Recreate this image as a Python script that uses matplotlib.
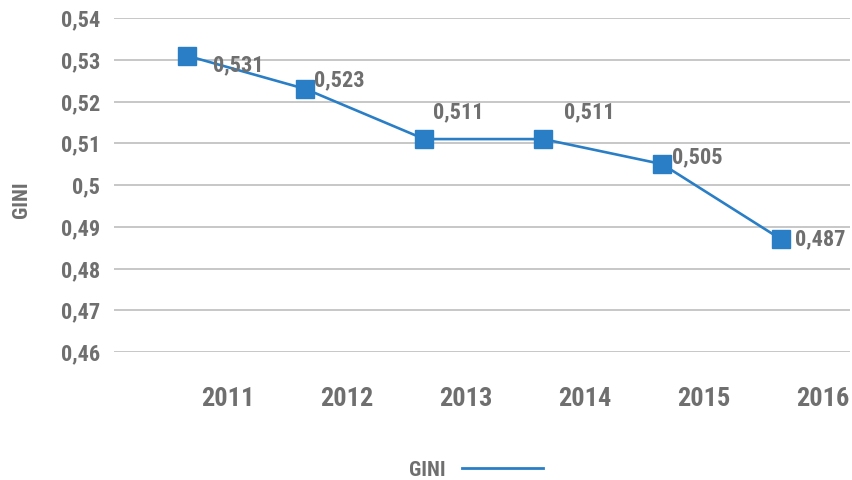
import numpy as np
import matplotlib
matplotlib.use("Agg")
import matplotlib.pyplot as plt
from matplotlib.lines import Line2D

# Gini coefficient by year
years = ["2011", "2012", "2013", "2014", "2015", "2016"]
gini = [0.531, 0.523, 0.511, 0.511, 0.505, 0.487]
y_ticks = [0.46, 0.47, 0.48, 0.49, 0.50, 0.51, 0.52, 0.53, 0.54]
series_name = "GINI"

plt.rcParams["font.family"] = ["Roboto Condensed", "Liberation Sans", "DejaVu Sans"]
plt.rcParams["font.weight"] = "bold"

TEXT = "#6f6f6f"
BLUE = "#2a7ec6"
GRID = "#b8b8b8"

fig = plt.figure(figsize=(8.52, 4.8), dpi=100)
ax = fig.add_axes([114 / 852, 1 - 352 / 480, (850 - 114) / 852, (352 - 18) / 480])

n = len(years)
tick_x = np.arange(n)
point_x = tick_x - 0.35  # markers sit left of their category labels

ax.plot(point_x, gini, color=BLUE, lw=1.9, marker="s", ms=12.5,
        markerfacecolor=BLUE, markeredgecolor=BLUE, zorder=3)

def fmt(v):
    s = f"{v:.3f}".rstrip("0").rstrip(".")
    return s.replace(".", ",")

# data label offsets in points (dx, dy)
offsets = [(19, -7), (6, 6), (6, 19), (15, 19), (7, 5), (10, 0)]
for x, v, (dx, dy) in zip(point_x, gini, offsets):
    ax.annotate(fmt(v), (x, v), xytext=(dx, dy), textcoords="offset points",
                ha="left", va="center", fontsize=16, color=TEXT,
                fontweight="bold")

ax.set_ylim(0.46, 0.54)
ax.set_xlim(-0.96, 5.23)
ax.set_yticks(y_ticks)
ax.set_yticklabels([fmt(t) for t in y_ticks])
ax.set_xticks(tick_x)
ax.set_xticklabels(years)
ax.grid(axis="y", color=GRID, lw=1.1)
ax.set_axisbelow(True)
for s in ax.spines.values():
    s.set_visible(False)
ax.tick_params(axis="both", length=0, colors=TEXT)
ax.tick_params(axis="y", pad=10, labelsize=16)
ax.tick_params(axis="x", pad=25, labelsize=19)
for lab in ax.get_xticklabels() + ax.get_yticklabels():
    lab.set_fontweight("bold")

fig.text(22 / 852, 1 - 200 / 480, series_name, rotation=90, ha="center",
         va="center", fontsize=15, color=TEXT, fontweight="bold")

handle = Line2D([], [], color=BLUE, lw=2)
leg = fig.legend([handle], [series_name], loc="center",
                 bbox_to_anchor=(476 / 852, 1 - 470 / 480), frameon=False,
                 markerfirst=False, handlelength=3.9, handletextpad=0.8,
                 fontsize=15, labelcolor=TEXT, borderpad=0.1)
for t in leg.get_texts():
    t.set_fontweight("bold")

fig.savefig("out.png", dpi=100)
